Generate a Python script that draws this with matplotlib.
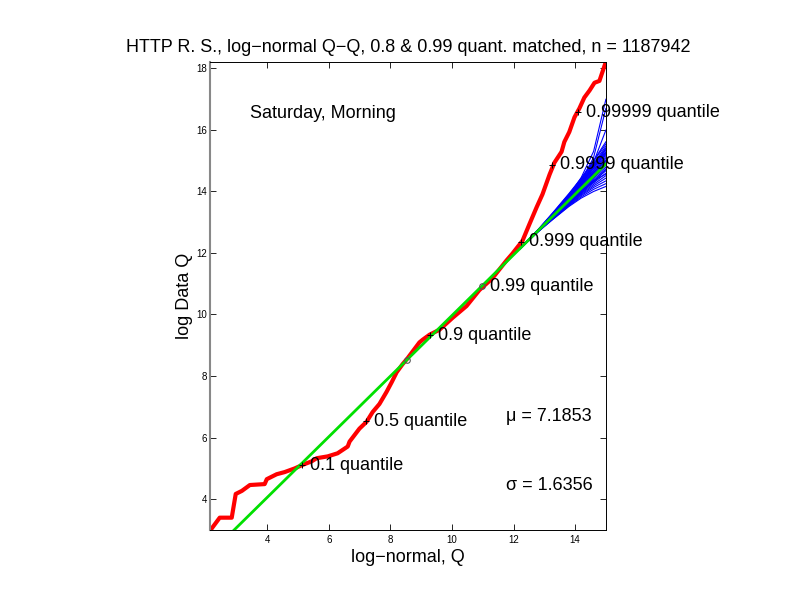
import matplotlib
matplotlib.use("Agg")
import matplotlib.pyplot as plt

plt.rcParams["font.family"] = ["Liberation Sans", "DejaVu Sans"]

# ------------------------
# Data
# ------------------------
# empirical Q-Q curve (log-normal quantile, log data quantile)
qq_x = [2.16, 2.45, 2.84, 2.97, 3.17, 3.43, 3.91, 3.98, 4.30, 4.56, 4.89, 5.11,
        5.44, 5.60, 5.96, 6.28, 6.61, 6.67, 6.99, 7.22, 7.42, 7.64, 7.87, 8.04,
        8.20, 8.39, 8.55, 8.94, 9.05, 9.27, 9.59, 10.02, 10.47, 10.89, 11.31,
        11.77, 11.96, 12.29, 12.52, 12.75, 12.94, 13.17, 13.33, 13.56, 13.65,
        13.81, 13.98, 14.14, 14.30, 14.47, 14.63, 14.79, 15.0]
qq_y = [3.01, 3.40, 3.40, 4.17, 4.27, 4.46, 4.49, 4.65, 4.81, 4.88, 5.00, 5.10,
        5.23, 5.33, 5.39, 5.49, 5.71, 5.87, 6.29, 6.51, 6.83, 7.09, 7.48, 7.80,
        8.12, 8.38, 8.57, 9.09, 9.18, 9.34, 9.50, 9.89, 10.27, 10.79, 11.17,
        11.75, 11.97, 12.39, 12.94, 13.48, 13.90, 14.54, 14.93, 15.28, 15.60,
        15.92, 16.40, 16.69, 17.04, 17.27, 17.52, 17.58, 18.2]

# matched quantiles (0.8 and 0.99)
matched_x = [8.54, 10.97]
matched_y = [8.53, 10.92]

# simulated tail lines: deviation from the matched line at each x
sim_x = [12.2, 12.8, 13.3, 13.8, 14.2, 14.6, 15.0]
sim_dev = [
    [0, 0.02, 0.05, 0.15, 0.35, 0.80, 2.10],
    [0, 0.03, 0.08, 0.12, 0.25, 0.60, 1.80],
    [0, 0.02, 0.10, 0.20, 0.30, 0.45, 1.10],
    [0, 0.04, 0.12, 0.22, 0.33, 0.50, 0.72],
    [0, 0.03, 0.09, 0.18, 0.30, 0.48, 0.65],
    [0, 0.02, 0.07, 0.16, 0.26, 0.40, 0.58],
    [0, 0.03, 0.08, 0.14, 0.22, 0.36, 0.52],
    [0, 0.01, 0.06, 0.13, 0.20, 0.33, 0.46],
    [0, 0.02, 0.05, 0.10, 0.18, 0.28, 0.40],
    [0, 0.01, 0.04, 0.09, 0.15, 0.25, 0.35],
    [0, 0.00, 0.03, 0.07, 0.13, 0.20, 0.30],
    [0, 0.01, 0.02, 0.06, 0.10, 0.17, 0.24],
    [0, 0.00, 0.02, 0.04, 0.08, 0.13, 0.18],
    [0, -0.01, 0.00, 0.03, 0.05, 0.09, 0.12],
    [0, 0.00, -0.01, 0.01, 0.03, 0.05, 0.07],
    [0, -0.01, -0.02, -0.01, 0.00, 0.02, 0.02],
    [0, -0.01, -0.03, -0.03, -0.03, -0.02, -0.04],
    [0, -0.02, -0.04, -0.05, -0.06, -0.07, -0.10],
    [0, -0.01, -0.04, -0.07, -0.09, -0.12, -0.16],
    [0, -0.02, -0.05, -0.08, -0.12, -0.17, -0.22],
    [0, -0.02, -0.06, -0.10, -0.15, -0.22, -0.30],
    [0, -0.03, -0.07, -0.12, -0.18, -0.27, -0.38],
    [0, -0.03, -0.08, -0.14, -0.21, -0.32, -0.46],
    [0, -0.02, -0.09, -0.16, -0.24, -0.37, -0.55],
    [0, -0.04, -0.10, -0.18, -0.28, -0.43, -0.64],
    [0, -0.03, -0.11, -0.20, -0.32, -0.50, -0.73],
    [0, 0.02, 0.06, 0.08, 0.24, 0.30, 0.50],
    [0, -0.01, 0.03, 0.10, 0.12, 0.28, 0.34],
    [0, 0.00, -0.02, 0.05, 0.02, 0.12, 0.10],
    [0, -0.02, -0.03, -0.09, -0.08, -0.20, -0.18],
    [0, -0.03, -0.06, -0.06, -0.16, -0.14, -0.33],
    [0, 0.01, 0.04, 0.12, 0.16, 0.42, 0.38],
]

# quantile annotations: marker position, label
quant_labels = ["0.1 quantile", "0.5 quantile", "0.9 quantile", "0.99 quantile",
                "0.999 quantile", "0.9999 quantile", "0.99999 quantile"]
quant_x = [5.11, 7.19, 9.27, 10.97, 12.24, 13.26, 14.08]
quant_y = [5.10, 6.53, 9.33, 10.90, 12.35, 14.86, 16.57]
quant_plus = [True, True, True, False, True, True, True]

mu = 7.1853
sigma = 1.6356
n = 1187942

# ------------------------
# Plot
# ------------------------
fig = plt.figure(figsize=(7.92, 6.12), dpi=100)
ax = fig.add_axes([0.265, 0.134, 0.5, 0.765])

# line through the matched quantiles
slope = (matched_y[1] - matched_y[0]) / (matched_x[1] - matched_x[0])

def matched_line(x):
    return matched_y[0] + slope * (x - matched_x[0])

for dev in sim_dev:
    ys = [matched_line(x) + d for x, d in zip(sim_x, dev)]
    ax.plot(sim_x, ys, color="#0000ff", lw=0.8)

ax.plot(qq_x, qq_y, color="#ff0000", lw=3)

gx = [2.0, 15.0]
ax.plot(gx, [matched_line(x) for x in gx], color="#00e000", lw=2)

ax.plot(matched_x, matched_y, "o", mfc="none", mec="#555555", ms=4, mew=0.8)

for lab, x, y, plus in zip(quant_labels, quant_x, quant_y, quant_plus):
    if plus:
        ax.plot(x, y, "+", color="black", ms=5, mew=0.7)
    ax.text(x + 0.26, y, lab, fontsize=13, va="center", ha="left")

ax.text(3.43, 16.53, "Saturday, Morning", fontsize=13, va="center")
ax.text(11.77, 6.67, "\u03bc = %.4f" % mu, fontsize=13, va="center")
ax.text(11.77, 4.43, "\u03c3 = %.4f" % sigma, fontsize=13, va="center")

ax.set_xlim(2.13, 15.0)
ax.set_ylim(3.0, 18.2)
ax.set_xticks([4, 6, 8, 10, 12, 14])
ax.set_yticks([4, 6, 8, 10, 12, 14, 16, 18])
ax.tick_params(direction="in", length=4, width=0.6, labelsize=7,
               top=True, right=True)
ax.tick_params(axis="y", pad=2)
for side in ["top", "right", "bottom"]:
    ax.spines[side].set_linewidth(0.7)
ax.spines["left"].set_color("#888888")
ax.spines["left"].set_linewidth(1.5)

ax.set_title("HTTP R. S., log\u2212normal Q\u2212Q, 0.8 & 0.99 quant. matched, n = %d" % n,
             fontsize=13, pad=7)
ax.set_xlabel("log\u2212normal, Q", fontsize=13, labelpad=3)
ax.set_ylabel("log Data Q", fontsize=13, labelpad=2)

fig.savefig("out.png", dpi=100)
